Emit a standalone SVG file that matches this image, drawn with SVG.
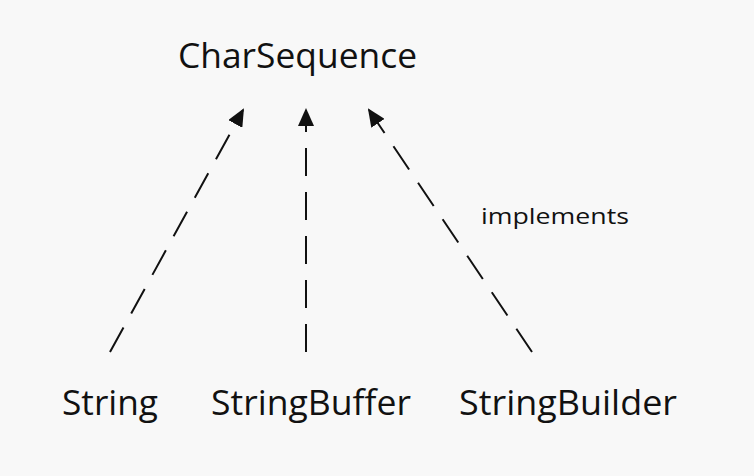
<svg xmlns="http://www.w3.org/2000/svg" width="754" height="476" viewBox="0 0 754 476">
<style>
text{font-family:"Open Sans","Noto Sans","Liberation Sans",sans-serif;fill:#111}
.lbl{font-size:34px}
.lbl2{font-size:35px}
.edge{stroke:#111;stroke-width:2;stroke-dasharray:28 16;fill:none}
</style>
<defs>
<marker id="ah" markerWidth="9" markerHeight="8" refX="8" refY="4" orient="auto" markerUnits="strokeWidth">
<path d="M0,0 L9,4 L0,8 Z" fill="#111"/>
</marker>
</defs>
<rect width="754" height="476" fill="#f8f8f8"/>
<g id="connectors">
<line class="edge" x1="110" y1="352" x2="243" y2="110" marker-end="url(#ah)"/>
<line class="edge" x1="306" y1="352" x2="306" y2="110" marker-end="url(#ah)"/>
<line class="edge" x1="532" y1="352" x2="369" y2="110" marker-end="url(#ah)"/>
<text x="481" y="224" font-size="21" textLength="148" lengthAdjust="spacingAndGlyphs">implements</text>
</g>
<g id="CharSequence"><text class="lbl" x="178" y="68" textLength="239" lengthAdjust="spacingAndGlyphs">CharSequence</text></g>
<g id="String"><text class="lbl2" x="62" y="415" textLength="96" lengthAdjust="spacingAndGlyphs">String</text></g>
<g id="StringBuffer"><text class="lbl2" x="211" y="415" textLength="200" lengthAdjust="spacingAndGlyphs">StringBuffer</text></g>
<g id="StringBuilder"><text class="lbl2" x="459" y="415" textLength="218" lengthAdjust="spacingAndGlyphs">StringBuilder</text></g>
</svg>
